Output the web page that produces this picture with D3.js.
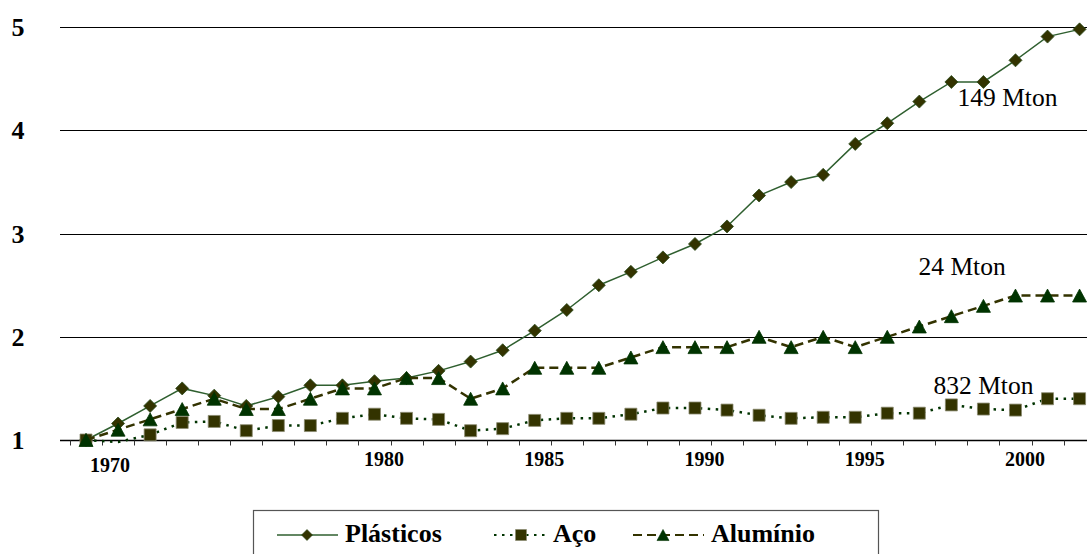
<!DOCTYPE html>
<html>
<head>
<meta charset="utf-8">
<script src="https://cdn.jsdelivr.net/npm/d3@7"></script>
<style>
  html, body { margin: 0; padding: 0; background: #ffffff; }
  svg { display: block; }
</style>
</head>
<body>
<svg id="chart" width="1087" height="554"></svg>
<script>
// ---- data ----
const years = d3.range(1970, 2002);
const plasticos = [1.00, 1.16, 1.33, 1.50, 1.43, 1.33, 1.42, 1.53, 1.53, 1.57, 1.60, 1.67, 1.76, 1.87, 2.06, 2.26,
                   2.50, 2.63, 2.77, 2.90, 3.07, 3.37, 3.50, 3.57, 3.87, 4.07, 4.28, 4.47, 4.47, 4.68, 4.91, 4.98];
const aco       = [1.00, 0.98, 1.05, 1.17, 1.18, 1.09, 1.14, 1.14, 1.21, 1.25, 1.21, 1.20, 1.09, 1.11, 1.19, 1.21,
                   1.21, 1.25, 1.31, 1.31, 1.29, 1.24, 1.21, 1.22, 1.22, 1.26, 1.26, 1.34, 1.30, 1.29, 1.40, 1.40];
const aluminio  = [1.0, 1.1, 1.2, 1.3, 1.4, 1.3, 1.3, 1.4, 1.5, 1.5, 1.6, 1.6, 1.4, 1.5, 1.7, 1.7,
                   1.7, 1.8, 1.9, 1.9, 1.9, 2.0, 1.9, 2.0, 1.9, 2.0, 2.1, 2.2, 2.3, 2.4, 2.4, 2.4];
const seriesNames = ["Plásticos", "Aço", "Alumínio"];
const yTicks = [1, 2, 3, 4, 5];
const xLabelYears = [1970, 1980, 1985, 1990, 1995, 2000];
const annotations = [
  { text: "149 Mton", series: "Plásticos" },
  { text: "24 Mton",  series: "Alumínio" },
  { text: "832 Mton", series: "Aço" }
];

// ---- layout ----
const FONT = "'Liberation Serif', 'Times New Roman', Tinos, serif";
const svg = d3.select("#chart").attr("font-family", FONT);
const plotLeft = 60, plotRight = 1087;
const x = d3.scaleLinear().domain([1970, 2002]).range([70, 70 + 32 * 32.05]);
const y = d3.scaleLinear().domain([1, 5]).range([440, 27.3]);
const px = yr => x(yr + 0.5);

const styles = {
  "Plásticos": { values: plasticos, line: "#2f5f2f", width: 1.5, dash: null, marker: "diamond", fill: "#333300", stroke: "#2a4a1a" },
  "Aço":       { values: aco,       line: "#003300", width: 2.5, dash: "2.5,5.5", marker: "square", fill: "#333300", stroke: "#8a8a70" },
  "Alumínio":  { values: aluminio,  line: "#333300", width: 2.5, dash: "9,5", marker: "triangle", fill: "#003300", stroke: "#003300" }
};

// gridlines
svg.append("g").selectAll("line").data(yTicks.filter(v => v > 1)).join("line")
  .attr("x1", plotLeft).attr("x2", plotRight)
  .attr("y1", d => Math.round(y(d)) + 0.5).attr("y2", d => Math.round(y(d)) + 0.5)
  .attr("stroke", "#000").attr("stroke-width", 1.2);

// x axis line and ticks
const axisY = Math.round(y(1)) + 0.5;
svg.append("line").attr("x1", plotLeft).attr("x2", plotRight).attr("y1", axisY).attr("y2", axisY)
  .attr("stroke", "#000").attr("stroke-width", 1.5);
svg.append("g").selectAll("line").data(years).join("line")
  .attr("x1", d => Math.round(x(d)) + 0.5).attr("x2", d => Math.round(x(d)) + 0.5)
  .attr("y1", axisY).attr("y2", axisY + 5)
  .attr("stroke", "#333").attr("stroke-width", 1);

// y labels
svg.append("g").selectAll("text").data(yTicks).join("text")
  .attr("font-family", FONT)
  .attr("x", 18).attr("y", d => y(d) + 9)
  .attr("text-anchor", "middle")
  .attr("font-size", 26).attr("font-weight", "bold").attr("fill", "#000")
  .text(d => d);

// x labels
svg.append("g").selectAll("text").data(xLabelYears).join("text")
  .attr("font-family", FONT)
  .attr("x", (d, i) => x(d) + (i === 0 ? 40 : -6.5))
  .attr("y", (d, i) => i === 0 ? 472 : 466)
  .attr("text-anchor", "middle")
  .attr("font-size", 20).attr("font-weight", "bold").attr("fill", "#000")
  .text(d => d);

// markers
function markerPath(type, s) {
  if (type === "diamond") return `M0,${-s}L${s},0L0,${s}L${-s},0Z`;
  if (type === "square") return `M${-s},${-s}H${s}V${s}H${-s}Z`;
  const h = s * 1.85;
  return `M0,${-h / 2}L${s},${h / 2}L${-s},${h / 2}Z`;
}
const markerSize = { diamond: 6.5, square: 6, triangle: 7 };

seriesNames.forEach(name => {
  const st = styles[name];
  const g = svg.append("g");
  const line = d3.line().x((d, i) => px(years[i])).y(d => y(d));
  g.append("path").datum(st.values)
    .attr("d", line)
    .attr("fill", "none")
    .attr("stroke", st.line)
    .attr("stroke-width", st.width)
    .attr("stroke-dasharray", st.dash);
  g.selectAll("path.m").data(st.values.map((v, i) => ({ v, yr: years[i] })).filter(d => d.v >= 1))
    .join("path").attr("class", "m")
    .attr("transform", d => `translate(${px(d.yr)},${y(d.v)})`)
    .attr("d", markerPath(st.marker, markerSize[st.marker]))
    .attr("fill", st.fill)
    .attr("stroke", st.stroke)
    .attr("stroke-width", 0.8);
});

// annotations (anchored near last points of each series)
const annPos = {
  "Plásticos": { dx: -122, dy: 77 },
  "Alumínio": { dx: -161, dy: -21 },
  "Aço": { dx: -146, dy: -5 }
};
svg.append("g").selectAll("text").data(annotations).join("text")
  .attr("font-family", FONT)
  .attr("x", d => px(years[years.length - 1]) + annPos[d.series].dx)
  .attr("y", d => y(styles[d.series].values[styles[d.series].values.length - 1]) + annPos[d.series].dy)
  .attr("font-size", 25.5).attr("fill", "#000")
  .text(d => d.text);

// legend
const legend = svg.append("g");
legend.append("rect").attr("x", 253.5).attr("y", 510.5).attr("width", 625).attr("height", 60)
  .attr("fill", "#fff").attr("stroke", "#555").attr("stroke-width", 1.2);
const legItems = [
  { name: "Plásticos", x1: 277, x2: 338, mx: 307, tx: 345 },
  { name: "Aço",       x1: 494, x2: 548, mx: 521, tx: 553 },
  { name: "Alumínio",  x1: 633, x2: 704, mx: 663, tx: 711 }
];
const legY = 535;
legItems.forEach(it => {
  const st = styles[it.name];
  legend.append("line").attr("x1", it.x1).attr("x2", it.x2).attr("y1", legY).attr("y2", legY)
    .attr("stroke", st.line).attr("stroke-width", st.width === 1.5 ? 1.5 : 2.2)
    .attr("stroke-dasharray", st.dash);
  legend.append("path").attr("transform", `translate(${it.mx},${legY})`)
    .attr("d", markerPath(st.marker, st.marker === "triangle" ? 6 : 5.5))
    .attr("fill", st.fill).attr("stroke", st.stroke).attr("stroke-width", 0.6);
  legend.append("text").attr("font-family", FONT).attr("x", it.tx).attr("y", legY + 7)
    .attr("font-size", 26).attr("font-weight", "bold").attr("fill", "#000")
    .text(it.name);
});
</script>
</body>
</html>
